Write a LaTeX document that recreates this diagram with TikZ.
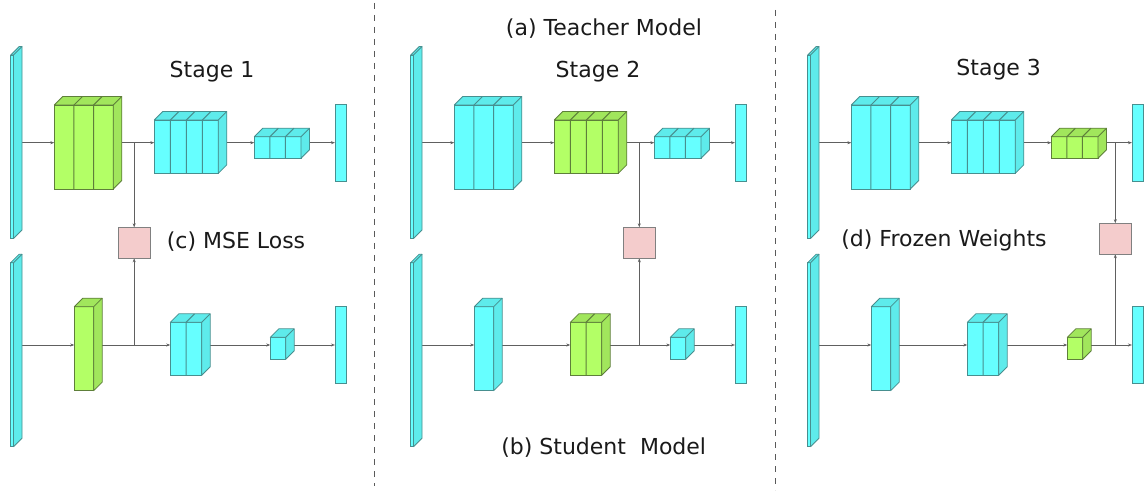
\documentclass[tikz,border=0pt]{standalone}
\usepackage{fontspec}
\setmainfont{DejaVu Sans}
\usetikzlibrary{arrows.meta,calc}
\pgfdeclarelayer{background}
\pgfsetlayers{background,main}

\definecolor{cyf}{HTML}{66FFFF}
\definecolor{cys}{HTML}{5EEBEB}
\definecolor{cyl}{HTML}{478F8F}
\definecolor{grf}{HTML}{B3FF66}
\definecolor{grs}{HTML}{A1E65C}
\definecolor{grl}{HTML}{5E7F3A}
\definecolor{lossf}{HTML}{F4CCCC}
\definecolor{inkc}{HTML}{1A1A1A}

\newcommand{\blkdepth}{8.5}
% one 3d layer: name, colour, slices, front face x0, y0, x1, y1
\newcommand{\layer}[7]{%
  \node[face, fill=#2f, draw=#2l, minimum width={(#6-#4)*1pt},
    minimum height={(#7-#5)*1pt}] (#1) at ({(#4+#6)/2},{(#5+#7)/2}) {};
  \filldraw[fill=#2s, draw=#2l, line width=0.8pt, line join=round]
    (#1.north west) -- ++(\blkdepth,-\blkdepth)
    -- ([shift={(\blkdepth,-\blkdepth)}]#1.north east)
    -- ([shift={(\blkdepth,-\blkdepth)}]#1.south east)
    -- (#1.south east) -- (#1.north east) -- cycle;
  \draw[#2l, line width=0.8pt] (#1.north east) -- ++(\blkdepth,-\blkdepth);
  \ifnum#3>1
    \pgfmathtruncatemacro\nslice{#3-1}
    \foreach \i in {1,...,\nslice}{
      \draw[#2l, line width=1pt]
        ($(#1.south west)!\i/#3!(#1.south east)$)
        -- ($(#1.north west)!\i/#3!(#1.north east)$) -- ++(\blkdepth,-\blkdepth);
    }
  \fi
}

\tikzset{face/.style={rectangle, inner sep=0pt, outer sep=0pt, line width=0.8pt},
    slab/.style={face, fill=cyf, draw=cyl, minimum width=11.7pt, minimum height=77.4pt},
    loss/.style={face, fill=lossf, draw=gray, minimum width=31.7pt, minimum height=31pt},
    conn/.style={draw=gray!75!black, line width=0.6pt, -{Stealth[length=4pt,width=3pt]}},
    title/.style={font=\fontsize{22}{26}\selectfont, text=inkc, inner sep=0pt},
    sep/.style={draw=gray!70!black, line width=1pt, dash pattern=on 6pt off 6pt},
    }

\begin{document}
\begin{tikzpicture}[x=1pt,y=-1pt]
\useasboundingbox (0,0) rectangle (1146,494);
\begin{pgfonlayer}{background}
\fill[white] (0,0) rectangle (1146,494);
\end{pgfonlayer}
\coordinate (r1) at (0,142.7);
\coordinate (r2) at (0,345);

% stage 1
\layer{ti1}{cy}{1}{10.7}{55}{13.5}{238.5}
\layer{t1a}{gr}{3}{54.3}{105}{113.3}{189}
\layer{t1b}{cy}{4}{154.3}{120}{218.3}{173.3}
\layer{t1c}{cy}{3}{254.3}{136.7}{301}{158.3}
\node[slab] (to1) at (340.8,143) {};
\layer{si1}{cy}{1}{10.7}{262.7}{13.5}{446.7}
\layer{s1a}{gr}{1}{74.3}{306.7}{93.7}{390.7}
\layer{s1b}{cy}{2}{170.3}{322.3}{201.7}{375.3}
\layer{s1c}{cy}{1}{270.3}{337.3}{285.7}{359.3}
\node[slab] (so1) at (340.8,344.7) {};
\node[loss] (loss1) at (134.2,242.8) {};
\begin{pgfonlayer}{background}
\draw[conn] (ti1.east |- r1) -- (t1a.west |- r1);
\draw[conn] (t1a.east |- r1) -- (t1b.west |- r1);
\draw[conn] (t1b.east |- r1) -- (t1c.west |- r1);
\draw[conn] (t1c.east |- r1) -- (to1.west |- r1);
\draw[conn] (si1.east |- r2) -- (s1a.west |- r2);
\draw[conn] (s1a.east |- r2) -- (s1b.west |- r2);
\draw[conn] (s1b.east |- r2) -- (s1c.west |- r2);
\draw[conn] (s1c.east |- r2) -- (so1.west |- r2);
\draw[conn] (loss1 |- r1) -- (loss1.north);
\draw[conn] (loss1 |- r2) -- (loss1.south);
\end{pgfonlayer}

% stage 2
\begin{scope}[xshift=400]
\layer{ti2}{cy}{1}{10.7}{55}{13.5}{238.5}
\layer{t2a}{cy}{3}{54.3}{105}{113.3}{189}
\layer{t2b}{gr}{4}{154.3}{120}{218.3}{173.3}
\layer{t2c}{cy}{3}{254.3}{136.7}{301}{158.3}
\node[slab] (to2) at (340.8,143) {};
\layer{si2}{cy}{1}{10.7}{262.7}{13.5}{446.7}
\layer{s2a}{cy}{1}{74.3}{306.7}{93.7}{390.7}
\layer{s2b}{gr}{2}{170.3}{322.3}{201.7}{375.3}
\layer{s2c}{cy}{1}{270.3}{337.3}{285.7}{359.3}
\node[slab] (so2) at (340.8,344.7) {};
\node[loss] (loss2) at (239.3,242.8) {};
\end{scope}
\begin{pgfonlayer}{background}
\draw[conn] (ti2.east |- r1) -- (t2a.west |- r1);
\draw[conn] (t2a.east |- r1) -- (t2b.west |- r1);
\draw[conn] (t2b.east |- r1) -- (t2c.west |- r1);
\draw[conn] (t2c.east |- r1) -- (to2.west |- r1);
\draw[conn] (si2.east |- r2) -- (s2a.west |- r2);
\draw[conn] (s2a.east |- r2) -- (s2b.west |- r2);
\draw[conn] (s2b.east |- r2) -- (s2c.west |- r2);
\draw[conn] (s2c.east |- r2) -- (so2.west |- r2);
\draw[conn] (loss2 |- r1) -- (loss2.north);
\draw[conn] (loss2 |- r2) -- (loss2.south);
\end{pgfonlayer}

% stage 3
\begin{scope}[xshift=797]
\layer{ti3}{cy}{1}{10.7}{55}{13.5}{238.5}
\layer{t3a}{cy}{3}{54.3}{105}{113.3}{189}
\layer{t3b}{cy}{4}{154.3}{120}{218.3}{173.3}
\layer{t3c}{gr}{3}{254.3}{136.7}{301}{158.3}
\node[slab] (to3) at (340.8,143) {};
\layer{si3}{cy}{1}{10.7}{262.7}{13.5}{446.7}
\layer{s3a}{cy}{1}{74.3}{306.7}{93.7}{390.7}
\layer{s3b}{cy}{2}{170.3}{322.3}{201.7}{375.3}
\layer{s3c}{gr}{1}{270.3}{337.3}{285.7}{359.3}
\node[slab] (so3) at (340.8,344.7) {};
\node[loss] (loss3) at (318.3,238.7) {};
\end{scope}
\begin{pgfonlayer}{background}
\draw[conn] (ti3.east |- r1) -- (t3a.west |- r1);
\draw[conn] (t3a.east |- r1) -- (t3b.west |- r1);
\draw[conn] (t3b.east |- r1) -- (t3c.west |- r1);
\draw[conn] (t3c.east |- r1) -- (to3.west |- r1);
\draw[conn] (si3.east |- r2) -- (s3a.west |- r2);
\draw[conn] (s3a.east |- r2) -- (s3b.west |- r2);
\draw[conn] (s3b.east |- r2) -- (s3c.west |- r2);
\draw[conn] (s3c.east |- r2) -- (so3.west |- r2);
\draw[conn] (loss3 |- r1) -- (loss3.north);
\draw[conn] (loss3 |- r2) -- (loss3.south);
\end{pgfonlayer}

% labels
\node[title] (teacher) at (604,28.3) {(a) Teacher Model};
\node[title] (student) at (603.7,447.7) {(b) Student\ \ Model};
\node[title] (stage1) at (212,72) {Stage 1};
\node[title] (stage2) at (598,71.7) {Stage 2};
\node[title] (stage3) at (998.7,70) {Stage 3};
\node[title] (mse) at (236,241.7) {(c) MSE Loss};
\node[title] (frozen) at (944,240) {(d) Frozen Weights};

% panel borders
\draw[sep] (374.7,3) -- (374.7,486);
\draw[sep] (775,10) -- (775,490);
\end{tikzpicture}
\end{document}
